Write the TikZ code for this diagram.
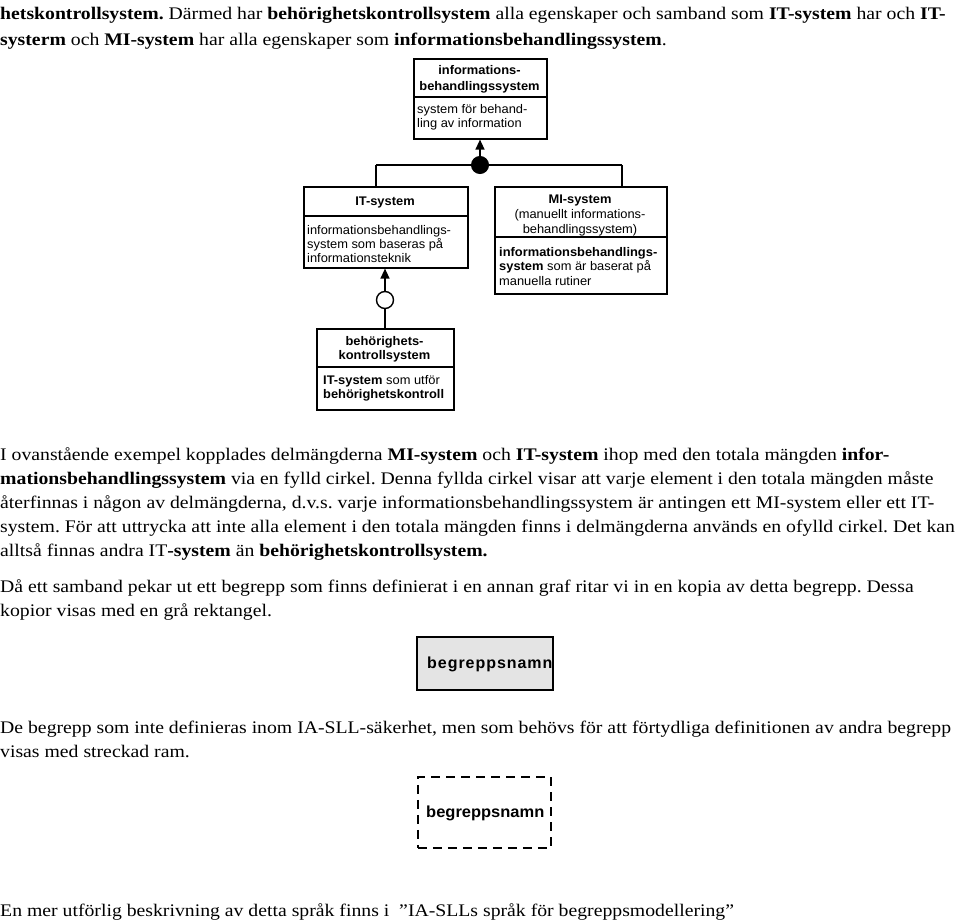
\documentclass[tikz,border=0pt]{standalone}
\usepackage{fontspec}
\setmainfont{Liberation Serif}[FakeStretch=1.115]
\newfontfamily\boxfont{Liberation Sans}[FakeStretch=1.03]
\newfontfamily\boxfontls{Liberation Sans}[LetterSpace=6]
\usetikzlibrary{arrows.meta}
\definecolor{copygray}{HTML}{E4E4E4}
\frenchspacing
\tikzset{
  bx/.style={draw, line width=1.6pt, inner sep=0pt, anchor=north west},
  sepl/.style={line width=1.6pt},
  conn/.style={line width=1.4pt},
  arr/.style={conn, -{Triangle[width=9pt,length=10pt]}},
  tl/.style={anchor=base west, inner sep=0pt, font=\frenchspacing\fontsize{17.7}{20}\selectfont},
  bt/.style={anchor=base, inner sep=0pt, font=\boxfont\fontsize{12.5}{14}\selectfont},
  btb/.style={anchor=base, inner sep=0pt, font=\boxfont\bfseries\fontsize{12.5}{14}\selectfont},
  btl/.style={anchor=base west, inner sep=0pt, font=\boxfont\fontsize{12.5}{14}\selectfont},
}
\begin{document}
\begin{tikzpicture}[x=1pt,y=1pt]
\useasboundingbox (0,0) rectangle (960,-921);
% top paragraph
\node[tl] (p1) at (0,-19) {\textbf{hetskontrollsystem.} Därmed har \textbf{behörighetskontrollsystem} alla egenskaper och samband som \textbf{IT-system} har och \textbf{IT-}};
\node[tl] (p2) at (0,-45) {\textbf{systerm} och \textbf{MI-system} har alla egenskaper som \textbf{informationsbehandlingssystem}.};
% boxes
\node[bx, minimum width=133pt, minimum height=80pt] (A) at (413,-58) {};
\draw[sepl] (413,-97) -- (546,-97);
\node[btb] (A1) at (479.5,-74) {informations-};
\node[btb] (A2) at (479.5,-90) {behandlingssystem};
\node[btl] (A3) at (417,-113) {system för behand-};
\node[btl] (A4) at (417,-127) {ling av information};

\node[bx, minimum width=164pt, minimum height=81pt] (B) at (303,-186) {};
\draw[sepl] (303,-216) -- (467,-216);
\node[btb] (B1) at (385,-205) {IT-system};
\node[btl] (B2) at (307,-234) {informationsbehandlings-};
\node[btl] (B3) at (307,-248) {system som baseras på};
\node[btl] (B4) at (307,-262) {informationsteknik};

\node[bx, minimum width=172pt, minimum height=107pt] (C) at (494,-186) {};
\draw[sepl] (494,-237) -- (666,-237);
\node[btb] (C1) at (580,-203) {MI-system};
\node[bt] (C2) at (580,-218) {(manuellt informations-};
\node[bt] (C3) at (580,-233) {behandlingssystem)};
\node[btl] (C4) at (499,-256) {\bfseries informationsbehandlings-};
\node[btl] (C5) at (499,-270) {\textbf{system} som är baserat på};
\node[btl] (C6) at (499,-285) {manuella rutiner};

\node[bx, minimum width=137pt, minimum height=81pt] (D) at (316,-328) {};
\draw[sepl] (316,-367) -- (453,-367);
\node[btb] (D1) at (384.5,-345) {behörighets-};
\node[btb] (D2) at (384.5,-359) {kontrollsystem};
\node[btl] (D3) at (323,-384) {\textbf{IT-system} som utför};
\node[btl] (D4) at (323,-398) {\bfseries behörighetskontroll};

% connectors
\node[circle, fill=black, draw, line width=1pt, minimum size=17pt, inner sep=0pt] (fc) at (480,-165) {};
\coordinate (bj) at (376,-165);
\coordinate (cj) at (622,-165);
\draw[conn] (bj) -- (fc.west);
\draw[conn] (fc.east) -- (cj);
\draw[conn] (bj) -- (bj |- B.north);
\draw[conn] (cj) -- (cj |- C.north);
\draw[arr] (fc.north) -- (fc |- A.south);
\node[circle, draw, line width=1.4pt, minimum size=17pt, inner sep=0pt] (oc) at (385,-300) {};
\draw[arr] (oc.north) -- (oc |- B.south);
\draw[conn] (oc.south) -- (oc |- D.north);

% middle paragraphs
\node[tl] (q1) at (0,-460) {I ovanstående exempel kopplades delmängderna \textbf{MI-system} och \textbf{IT-system} ihop med den totala mängden \textbf{infor-}};
\node[tl] (q2) at (0,-484) {\textbf{mationsbehandlingssystem} via en fylld cirkel. Denna fyllda cirkel visar att varje element i den totala mängden måste};
\node[tl] (q3) at (0,-508) {återfinnas i någon av delmängderna, d.v.s. varje informationsbehandlingssystem är antingen ett MI-system eller ett IT-};
\node[tl] (q4) at (0,-532) {system. För att uttrycka att inte alla element i den totala mängden finns i delmängderna används en ofylld cirkel. Det kan};
\node[tl] (q5) at (0,-556) {alltså finnas andra IT\textbf{-system} än \textbf{behörighetskontrollsystem.}};
\node[tl] (q6) at (0,-592) {Då ett samband pekar ut ett begrepp som finns definierat i en annan graf ritar vi in en kopia av detta begrepp. Dessa};
\node[tl] (q7) at (0,-616) {kopior visas med en grå rektangel.};

% gray copy box
\node[bx, fill=copygray, minimum width=136pt, minimum height=53pt] (E) at (416,-636) {};
\node[anchor=base west, inner sep=0pt, font=\boxfontls\bfseries\fontsize{16}{18}\selectfont] (E1) at (427,-668) {begreppsnamn};

\node[tl] (r1) at (0,-733) {De begrepp som inte definieras inom IA-SLL-säkerhet, men som behövs för att förtydliga definitionen av andra begrepp};
\node[tl] (r2) at (0,-757) {visas med streckad ram.};

% dashed box
\node[bx, dash pattern=on 9pt off 6pt, minimum width=133pt, minimum height=71pt] (F) at (417,-776) {};
\node[anchor=base west, inner sep=0pt, font=\boxfont\bfseries\fontsize{16}{18}\selectfont] (F1) at (426,-817) {begreppsnamn};

\node[tl] (s1) at (0,-916) {En mer utförlig beskrivning av detta språk finns i \ ”IA-SLLs språk för begreppsmodellering”};
\end{tikzpicture}
\end{document}
